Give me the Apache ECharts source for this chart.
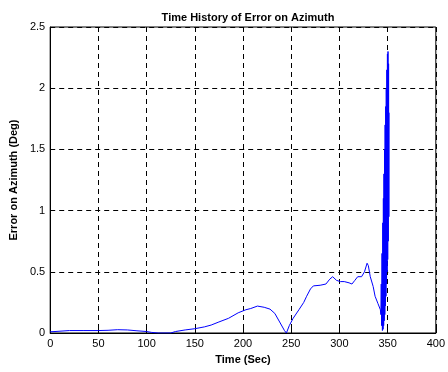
<!DOCTYPE html>
<html>
<head>
<meta charset="utf-8">
<script src="https://cdn.jsdelivr.net/npm/echarts@6/dist/echarts.min.js"></script>
<style>
  html, body { margin: 0; padding: 0; background: #fff; }
  #chart { width: 448px; height: 372px; }
</style>
</head>
<body>
<div id="chart"></div>
<script>
// Time samples (s)
const timeSec = [
  0, 5, 20, 35, 50, 60, 70, 80, 90, 100, 105, 112, 125, 130, 140, 150,
  160, 167, 175, 185, 195, 203, 208, 215, 222, 228, 233, 238, 243, 245,
  248, 252, 258, 263, 266, 270, 273, 280, 286, 290, 293, 297, 301, 305,
  310, 313, 316, 319, 323, 326, 328.7, 330, 332, 335, 337, 340, 342.5,
  343.0, 343.4, 343.8, 344.2, 344.6, 345.0, 345.3, 345.6, 345.9, 346.2,
  346.5, 346.8, 347.1, 347.4, 347.7, 348.0, 348.3, 348.6, 348.9, 349.2,
  349.5, 349.8, 350.1, 350.4, 350.7, 351.0, 351.3, 351.5
];

// Azimuth error (deg)
const azErrDeg = [
  0.01, 0.012, 0.02, 0.02, 0.02, 0.022, 0.027, 0.025, 0.018, 0.012, 0.005, 0.0, 0.0, 0.012, 0.025, 0.035,
  0.05, 0.065, 0.09, 0.12, 0.165, 0.19, 0.2, 0.22, 0.21, 0.195, 0.16, 0.09, 0.02, 0.0,
  0.06, 0.12, 0.19, 0.25, 0.3, 0.36, 0.385, 0.39, 0.40, 0.44, 0.46, 0.43, 0.42, 0.42,
  0.41, 0.40, 0.43, 0.46, 0.46, 0.50, 0.57, 0.55, 0.46, 0.38, 0.30, 0.24, 0.19,
  0.15, 0.40, 0.06, 0.65, 0.02, 0.90, 0.03, 1.10, 0.06, 1.30,
  0.10, 1.50, 0.15, 1.70, 0.22, 1.85, 0.30, 2.00, 0.40, 2.15,
  0.50, 2.28, 0.60, 2.30, 0.75, 2.20, 0.95, 1.80
];

const xTicks = [0, 50, 100, 150, 200, 250, 300, 350, 400];
const yTicks = [0, 0.5, 1, 1.5, 2, 2.5];

const points = timeSec.map((t, i) => [t, azErrDeg[i]]);

const font = 'Liberation Sans, Arial, sans-serif';
const gridDash = { color: '#000', type: [5, 4], width: 1 };

const chart = echarts.init(document.getElementById('chart'), null, { renderer: 'canvas' });
chart.setOption({
  animation: false,
  backgroundColor: '#fff',
  title: {
    text: 'Time History of Error on Azimuth',
    left: 243, top: 7, textAlign: 'center',
    textStyle: { fontFamily: font, fontSize: 11, fontWeight: 'bold', color: '#000' }
  },
  grid: {
    left: 48, right: 10, top: 27, bottom: 39,
    show: true, borderColor: '#000', borderWidth: 1, backgroundColor: '#fff'
  },
  xAxis: {
    type: 'value',
    min: xTicks[0], max: xTicks[xTicks.length - 1], interval: 50,
    name: 'Time (Sec)', nameLocation: 'middle', nameGap: 21,
    nameTextStyle: { fontFamily: font, fontSize: 11, fontWeight: 'bold', color: '#000' },
    axisLine: { show: true, onZero: false, lineStyle: { color: '#000', width: 1 } },
    axisTick: { show: true, inside: true, length: 4, lineStyle: { color: '#000' } },
    axisLabel: { fontFamily: font, fontSize: 11, color: '#000', margin: 5 },
    splitLine: { show: true, lineStyle: gridDash }
  },
  yAxis: {
    type: 'value',
    min: yTicks[0], max: yTicks[yTicks.length - 1], interval: 0.5,
    name: 'Error on Azimuth (Deg)', nameLocation: 'middle', nameGap: 30,
    nameTextStyle: { fontFamily: font, fontSize: 11, fontWeight: 'bold', color: '#000' },
    axisLine: { show: true, lineStyle: { color: '#000', width: 1 } },
    axisTick: { show: true, inside: true, length: 4, lineStyle: { color: '#000' } },
    axisLabel: { fontFamily: font, fontSize: 11, color: '#000', margin: 5 },
    splitLine: { show: true, lineStyle: gridDash }
  },
  series: [{
    type: 'line',
    data: points,
    showSymbol: false,
    smooth: false,
    clip: true,
    lineStyle: { color: '#0000ff', width: 1, join: 'bevel' },
    itemStyle: { color: '#0000ff' }
  }]
});
</script>
</body>
</html>
